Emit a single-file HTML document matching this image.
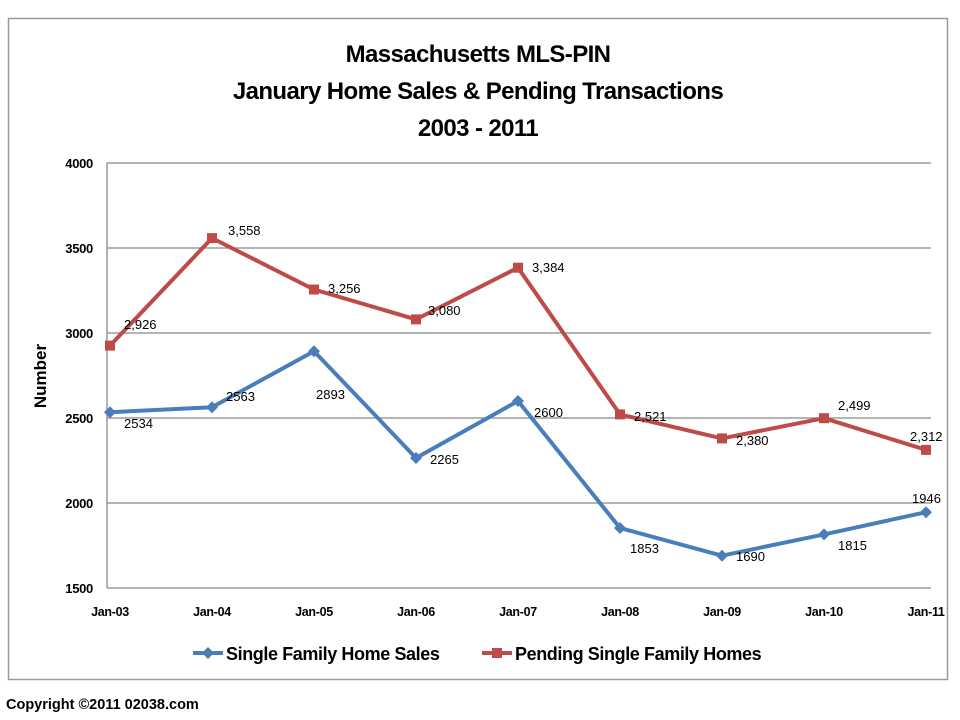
<!DOCTYPE html>
<html><head><meta charset="utf-8"><style>
html,body{margin:0;padding:0;background:#fff;width:960px;height:720px;overflow:hidden}
svg{display:block;font-family:"Liberation Sans",sans-serif}
</style></head><body>
<svg width="960" height="720" viewBox="0 0 960 720">
<rect x="8.5" y="18.5" width="939" height="661" fill="#fff" stroke="#999" stroke-width="1.5"/>
<g font-weight="bold" text-anchor="middle" font-size="24" fill="#000" letter-spacing="-0.6">
<text x="478" y="62">Massachusetts MLS-PIN</text>
<text x="478" y="99">January Home Sales &amp; Pending Transactions</text>
<text x="478" y="136">2003 - 2011</text>
</g>
<g stroke="#888" stroke-width="1.3">
<line x1="107" y1="163" x2="931" y2="163"/>
<line x1="107" y1="248" x2="931" y2="248"/>
<line x1="107" y1="333" x2="931" y2="333"/>
<line x1="107" y1="418" x2="931" y2="418"/>
<line x1="107" y1="503" x2="931" y2="503"/>
<line x1="107" y1="588" x2="931" y2="588"/>
<line x1="107" y1="163" x2="107" y2="588"/>
</g>
<g font-weight="bold" font-size="13" text-anchor="end" letter-spacing="-0.3">
<text x="93" y="168">4000</text><text x="93" y="253">3500</text><text x="93" y="338">3000</text>
<text x="93" y="423">2500</text><text x="93" y="508">2000</text><text x="93" y="593">1500</text>
</g>
<text transform="translate(46,376) rotate(-90)" font-weight="bold" font-size="17" text-anchor="middle">Number</text>
<g font-weight="bold" font-size="12.5" text-anchor="middle" letter-spacing="-0.3">
<text x="110" y="616">Jan-03</text><text x="212" y="616">Jan-04</text><text x="314" y="616">Jan-05</text>
<text x="416" y="616">Jan-06</text><text x="518" y="616">Jan-07</text><text x="620" y="616">Jan-08</text>
<text x="722" y="616">Jan-09</text><text x="824" y="616">Jan-10</text><text x="926" y="616">Jan-11</text>
</g>
<polyline fill="none" stroke="#4a7ebb" stroke-width="4" stroke-linejoin="round" points="110,412.2 212,407.3 314,351.2 416,458.0 518,401.0 620,528.0 722,555.7 824,534.4 926,512.2"/>
<g fill="#4a7ebb">
<polygon points="110,406.2 116,412.2 110,418.2 104,412.2"/>
<polygon points="212,401.3 218,407.3 212,413.3 206,407.3"/>
<polygon points="314,345.2 320,351.2 314,357.2 308,351.2"/>
<polygon points="416,452 422,458 416,464 410,458"/>
<polygon points="518,395 524,401 518,407 512,401"/>
<polygon points="620,522 626,528 620,534 614,528"/>
<polygon points="722,549.7 728,555.7 722,561.7 716,555.7"/>
<polygon points="824,528.4 830,534.4 824,540.4 818,534.4"/>
<polygon points="926,506.2 932,512.2 926,518.2 920,512.2"/>
</g>
<polyline fill="none" stroke="#be4b48" stroke-width="4" stroke-linejoin="round" points="110,345.6 212,238.1 314,289.5 416,319.4 518,267.7 620,414.4 722,438.4 824,418.2 926,449.9"/>
<g fill="#be4b48">
<rect x="105" y="340.6" width="10" height="10"/><rect x="207" y="233.1" width="10" height="10"/>
<rect x="309" y="284.5" width="10" height="10"/><rect x="411" y="314.4" width="10" height="10"/>
<rect x="513" y="262.7" width="10" height="10"/><rect x="615" y="409.4" width="10" height="10"/>
<rect x="717" y="433.4" width="10" height="10"/><rect x="819" y="413.2" width="10" height="10"/>
<rect x="921" y="444.9" width="10" height="10"/>
</g>
<g font-size="13" fill="#000">
<text x="124" y="329">2,926</text><text x="228" y="235">3,558</text><text x="328" y="293">3,256</text>
<text x="428" y="315">3,080</text><text x="532" y="272">3,384</text><text x="634" y="421">2,521</text>
<text x="736" y="445">2,380</text><text x="838" y="410">2,499</text><text x="910" y="441">2,312</text>
<text x="124" y="428">2534</text><text x="226" y="401">2563</text><text x="316" y="399">2893</text>
<text x="430" y="464">2265</text><text x="534" y="417">2600</text><text x="630" y="553">1853</text>
<text x="736" y="561">1690</text><text x="838" y="550">1815</text><text x="912" y="503">1946</text>
</g>
<line x1="193" y1="653" x2="223" y2="653" stroke="#4a7ebb" stroke-width="4"/>
<polygon points="208,647 214,653 208,659 202,653" fill="#4a7ebb"/>
<text x="226" y="660" font-weight="bold" font-size="18" letter-spacing="-0.4">Single Family Home Sales</text>
<line x1="482" y1="653" x2="512" y2="653" stroke="#be4b48" stroke-width="4"/>
<rect x="492" y="648" width="10" height="10" fill="#be4b48"/>
<text x="515" y="660" font-weight="bold" font-size="18" letter-spacing="-0.4">Pending Single Family Homes</text>
<text x="6" y="709" font-weight="bold" font-size="14.5">Copyright ©2011 02038.com</text>
</svg>
</body></html>
